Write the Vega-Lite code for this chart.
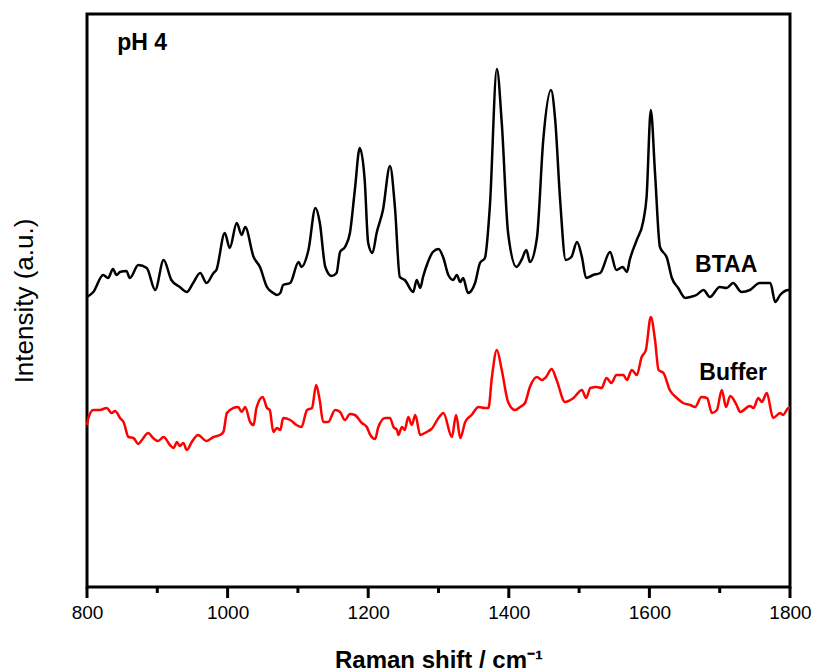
{
  "$schema": "https://vega.github.io/schema/vega-lite/v6.json",
  "width": 703,
  "height": 573,
  "autosize": "none",
  "padding": {"left": 87, "top": 14, "right": 24, "bottom": 84},
  "background": "white",
  "config": {
    "view": {"stroke": "black", "strokeWidth": 3},
    "font": "Liberation Sans",
    "axis": {"grid": false, "domainColor": "black", "domainWidth": 3, "labelColor": "black", "titleColor": "black", "labelFont": "Liberation Sans", "titleFont": "Liberation Sans"}
  },
  "datasets": {
    "spectra": [
      {"s":"BTAA","x":800,"y":290},{"s":"BTAA","x":809,"y":295},{"s":"BTAA","x":823,"y":312},{"s":"BTAA","x":830,"y":309},{"s":"BTAA","x":837,"y":318},{"s":"BTAA","x":842,"y":312},{"s":"BTAA","x":847,"y":315},{"s":"BTAA","x":856,"y":316},{"s":"BTAA","x":861,"y":309},{"s":"BTAA","x":873,"y":322},{"s":"BTAA","x":885,"y":319},{"s":"BTAA","x":897,"y":297},{"s":"BTAA","x":909,"y":327},{"s":"BTAA","x":920,"y":307},{"s":"BTAA","x":932,"y":300},{"s":"BTAA","x":942,"y":295},{"s":"BTAA","x":951,"y":304},{"s":"BTAA","x":961,"y":314},{"s":"BTAA","x":970,"y":304},{"s":"BTAA","x":980,"y":314},{"s":"BTAA","x":984,"y":317},{"s":"BTAA","x":996,"y":354},{"s":"BTAA","x":1003,"y":339},{"s":"BTAA","x":1013,"y":364},{"s":"BTAA","x":1020,"y":352},{"s":"BTAA","x":1025,"y":360},{"s":"BTAA","x":1037,"y":330},{"s":"BTAA","x":1046,"y":320},{"s":"BTAA","x":1056,"y":300},{"s":"BTAA","x":1065,"y":294},{"s":"BTAA","x":1070,"y":292},{"s":"BTAA","x":1075,"y":294},{"s":"BTAA","x":1079,"y":302},{"s":"BTAA","x":1089,"y":304},{"s":"BTAA","x":1101,"y":325},{"s":"BTAA","x":1105,"y":320},{"s":"BTAA","x":1115,"y":337},{"s":"BTAA","x":1125,"y":379},{"s":"BTAA","x":1131,"y":365},{"s":"BTAA","x":1139,"y":320},{"s":"BTAA","x":1148,"y":311},{"s":"BTAA","x":1155,"y":314},{"s":"BTAA","x":1160,"y":335},{"s":"BTAA","x":1167,"y":340},{"s":"BTAA","x":1174,"y":354},{"s":"BTAA","x":1181,"y":397},{"s":"BTAA","x":1188,"y":439},{"s":"BTAA","x":1195,"y":407},{"s":"BTAA","x":1200,"y":344},{"s":"BTAA","x":1206,"y":334},{"s":"BTAA","x":1212,"y":354},{"s":"BTAA","x":1221,"y":377},{"s":"BTAA","x":1231,"y":421},{"s":"BTAA","x":1238,"y":380},{"s":"BTAA","x":1245,"y":310},{"s":"BTAA","x":1252,"y":307},{"s":"BTAA","x":1264,"y":295},{"s":"BTAA","x":1269,"y":307},{"s":"BTAA","x":1274,"y":299},{"s":"BTAA","x":1278,"y":310},{"s":"BTAA","x":1285,"y":325},{"s":"BTAA","x":1292,"y":335},{"s":"BTAA","x":1300,"y":338},{"s":"BTAA","x":1307,"y":329},{"s":"BTAA","x":1314,"y":312},{"s":"BTAA","x":1321,"y":307},{"s":"BTAA","x":1326,"y":312},{"s":"BTAA","x":1331,"y":305},{"s":"BTAA","x":1335,"y":309},{"s":"BTAA","x":1342,"y":294},{"s":"BTAA","x":1352,"y":304},{"s":"BTAA","x":1359,"y":324},{"s":"BTAA","x":1366,"y":329},{"s":"BTAA","x":1373,"y":380},{"s":"BTAA","x":1383,"y":518},{"s":"BTAA","x":1390,"y":464},{"s":"BTAA","x":1399,"y":354},{"s":"BTAA","x":1411,"y":320},{"s":"BTAA","x":1418,"y":327},{"s":"BTAA","x":1425,"y":337},{"s":"BTAA","x":1430,"y":325},{"s":"BTAA","x":1440,"y":349},{"s":"BTAA","x":1449,"y":447},{"s":"BTAA","x":1460,"y":497},{"s":"BTAA","x":1466,"y":467},{"s":"BTAA","x":1473,"y":387},{"s":"BTAA","x":1481,"y":327},{"s":"BTAA","x":1489,"y":330},{"s":"BTAA","x":1497,"y":345},{"s":"BTAA","x":1504,"y":330},{"s":"BTAA","x":1510,"y":309},{"s":"BTAA","x":1520,"y":312},{"s":"BTAA","x":1530,"y":314},{"s":"BTAA","x":1544,"y":335},{"s":"BTAA","x":1553,"y":317},{"s":"BTAA","x":1562,"y":320},{"s":"BTAA","x":1568,"y":315},{"s":"BTAA","x":1572,"y":327},{"s":"BTAA","x":1582,"y":347},{"s":"BTAA","x":1591,"y":365},{"s":"BTAA","x":1596,"y":390},{"s":"BTAA","x":1602,"y":477},{"s":"BTAA","x":1608,"y":414},{"s":"BTAA","x":1615,"y":340},{"s":"BTAA","x":1625,"y":329},{"s":"BTAA","x":1632,"y":309},{"s":"BTAA","x":1641,"y":299},{"s":"BTAA","x":1651,"y":289},{"s":"BTAA","x":1658,"y":290},{"s":"BTAA","x":1667,"y":292},{"s":"BTAA","x":1677,"y":297},{"s":"BTAA","x":1686,"y":290},{"s":"BTAA","x":1700,"y":300},{"s":"BTAA","x":1710,"y":299},{"s":"BTAA","x":1719,"y":304},{"s":"BTAA","x":1731,"y":295},{"s":"BTAA","x":1743,"y":297},{"s":"BTAA","x":1757,"y":304},{"s":"BTAA","x":1772,"y":304},{"s":"BTAA","x":1779,"y":285},{"s":"BTAA","x":1786,"y":292},{"s":"BTAA","x":1798,"y":297},{"s":"BTAA","x":1800,"y":297},
      {"s":"Buffer","x":800,"y":162},{"s":"Buffer","x":802,"y":169},{"s":"Buffer","x":809,"y":177},{"s":"Buffer","x":818,"y":177},{"s":"Buffer","x":828,"y":179},{"s":"Buffer","x":835,"y":174},{"s":"Buffer","x":840,"y":176},{"s":"Buffer","x":847,"y":169},{"s":"Buffer","x":852,"y":165},{"s":"Buffer","x":859,"y":150},{"s":"Buffer","x":866,"y":149},{"s":"Buffer","x":873,"y":143},{"s":"Buffer","x":878,"y":147},{"s":"Buffer","x":887,"y":154},{"s":"Buffer","x":894,"y":149},{"s":"Buffer","x":901,"y":146},{"s":"Buffer","x":909,"y":150},{"s":"Buffer","x":918,"y":142},{"s":"Buffer","x":923,"y":139},{"s":"Buffer","x":928,"y":145},{"s":"Buffer","x":932,"y":141},{"s":"Buffer","x":937,"y":144},{"s":"Buffer","x":942,"y":137},{"s":"Buffer","x":949,"y":145},{"s":"Buffer","x":958,"y":152},{"s":"Buffer","x":970,"y":146},{"s":"Buffer","x":980,"y":150},{"s":"Buffer","x":989,"y":152},{"s":"Buffer","x":994,"y":155},{"s":"Buffer","x":999,"y":174},{"s":"Buffer","x":1008,"y":179},{"s":"Buffer","x":1015,"y":180},{"s":"Buffer","x":1020,"y":175},{"s":"Buffer","x":1025,"y":180},{"s":"Buffer","x":1032,"y":165},{"s":"Buffer","x":1037,"y":162},{"s":"Buffer","x":1041,"y":179},{"s":"Buffer","x":1050,"y":190},{"s":"Buffer","x":1056,"y":179},{"s":"Buffer","x":1060,"y":177},{"s":"Buffer","x":1065,"y":155},{"s":"Buffer","x":1070,"y":159},{"s":"Buffer","x":1075,"y":157},{"s":"Buffer","x":1079,"y":169},{"s":"Buffer","x":1089,"y":167},{"s":"Buffer","x":1098,"y":162},{"s":"Buffer","x":1105,"y":160},{"s":"Buffer","x":1113,"y":177},{"s":"Buffer","x":1120,"y":179},{"s":"Buffer","x":1126,"y":202},{"s":"Buffer","x":1131,"y":187},{"s":"Buffer","x":1136,"y":165},{"s":"Buffer","x":1143,"y":165},{"s":"Buffer","x":1153,"y":177},{"s":"Buffer","x":1160,"y":175},{"s":"Buffer","x":1167,"y":167},{"s":"Buffer","x":1174,"y":173},{"s":"Buffer","x":1181,"y":172},{"s":"Buffer","x":1191,"y":164},{"s":"Buffer","x":1198,"y":160},{"s":"Buffer","x":1203,"y":152},{"s":"Buffer","x":1210,"y":148},{"s":"Buffer","x":1214,"y":159},{"s":"Buffer","x":1224,"y":169},{"s":"Buffer","x":1231,"y":169},{"s":"Buffer","x":1236,"y":160},{"s":"Buffer","x":1241,"y":157},{"s":"Buffer","x":1243,"y":152},{"s":"Buffer","x":1248,"y":160},{"s":"Buffer","x":1252,"y":157},{"s":"Buffer","x":1257,"y":170},{"s":"Buffer","x":1262,"y":162},{"s":"Buffer","x":1267,"y":172},{"s":"Buffer","x":1274,"y":152},{"s":"Buffer","x":1283,"y":155},{"s":"Buffer","x":1290,"y":158},{"s":"Buffer","x":1301,"y":170},{"s":"Buffer","x":1307,"y":174},{"s":"Buffer","x":1319,"y":150},{"s":"Buffer","x":1325,"y":172},{"s":"Buffer","x":1331,"y":149},{"s":"Buffer","x":1338,"y":165},{"s":"Buffer","x":1347,"y":172},{"s":"Buffer","x":1357,"y":180},{"s":"Buffer","x":1366,"y":179},{"s":"Buffer","x":1371,"y":179},{"s":"Buffer","x":1376,"y":210},{"s":"Buffer","x":1383,"y":237},{"s":"Buffer","x":1390,"y":217},{"s":"Buffer","x":1399,"y":185},{"s":"Buffer","x":1409,"y":177},{"s":"Buffer","x":1416,"y":180},{"s":"Buffer","x":1423,"y":184},{"s":"Buffer","x":1430,"y":200},{"s":"Buffer","x":1440,"y":210},{"s":"Buffer","x":1447,"y":207},{"s":"Buffer","x":1453,"y":210},{"s":"Buffer","x":1461,"y":218},{"s":"Buffer","x":1468,"y":207},{"s":"Buffer","x":1480,"y":185},{"s":"Buffer","x":1492,"y":189},{"s":"Buffer","x":1504,"y":197},{"s":"Buffer","x":1510,"y":189},{"s":"Buffer","x":1516,"y":199},{"s":"Buffer","x":1525,"y":200},{"s":"Buffer","x":1532,"y":199},{"s":"Buffer","x":1539,"y":209},{"s":"Buffer","x":1546,"y":204},{"s":"Buffer","x":1553,"y":212},{"s":"Buffer","x":1563,"y":212},{"s":"Buffer","x":1568,"y":207},{"s":"Buffer","x":1575,"y":217},{"s":"Buffer","x":1582,"y":212},{"s":"Buffer","x":1589,"y":230},{"s":"Buffer","x":1595,"y":237},{"s":"Buffer","x":1602,"y":270},{"s":"Buffer","x":1608,"y":247},{"s":"Buffer","x":1613,"y":217},{"s":"Buffer","x":1620,"y":214},{"s":"Buffer","x":1629,"y":197},{"s":"Buffer","x":1639,"y":189},{"s":"Buffer","x":1648,"y":184},{"s":"Buffer","x":1658,"y":182},{"s":"Buffer","x":1665,"y":180},{"s":"Buffer","x":1674,"y":190},{"s":"Buffer","x":1682,"y":189},{"s":"Buffer","x":1689,"y":174},{"s":"Buffer","x":1696,"y":177},{"s":"Buffer","x":1703,"y":197},{"s":"Buffer","x":1709,"y":180},{"s":"Buffer","x":1715,"y":191},{"s":"Buffer","x":1724,"y":182},{"s":"Buffer","x":1729,"y":175},{"s":"Buffer","x":1743,"y":181},{"s":"Buffer","x":1748,"y":179},{"s":"Buffer","x":1755,"y":189},{"s":"Buffer","x":1760,"y":185},{"s":"Buffer","x":1767,"y":194},{"s":"Buffer","x":1776,"y":169},{"s":"Buffer","x":1786,"y":174},{"s":"Buffer","x":1790,"y":172},{"s":"Buffer","x":1798,"y":179},{"s":"Buffer","x":1800,"y":179}
    ],
    "labels": [
      {"text": "pH 4", "x": 843, "y": 537},
      {"text": "BTAA", "x": 1665, "y": 315},
      {"text": "Buffer", "x": 1671, "y": 207}
    ],
    "majorTicks": [{"x": 800}, {"x": 1000}, {"x": 1200}, {"x": 1400}, {"x": 1600}, {"x": 1800}],
    "minorTicks": [{"x": 900}, {"x": 1100}, {"x": 1300}, {"x": 1500}, {"x": 1700}]
  },
  "layer": [
    {
      "data": {"name": "spectra"},
      "mark": {"type": "line", "strokeWidth": 2.5, "interpolate": "monotone"},
      "encoding": {
        "x": {"field": "x", "type": "quantitative", "scale": {"domain": [800, 1800], "nice": false, "zero": false},
          "axis": {"orient": "bottom", "values": [800, 1000, 1200, 1400, 1600, 1800], "format": "d", "ticks": false, "labelFontSize": 19, "labelPadding": 16, "labelFlush": false, "labelOverlap": false, "domain": false,
            "title": "Raman shift / cm⁻¹", "titleFontSize": 24, "titleFontWeight": "bold", "titleY": 80, "titleBaseline": "alphabetic"}},
        "y": {"field": "y", "type": "quantitative", "scale": {"domain": [0, 573], "nice": false, "zero": false},
          "axis": {"title": "Intensity (a.u.)", "ticks": false, "labels": false, "domain": false, "titleFontSize": 26, "titleFontWeight": "normal", "titleX": -55, "titleBaseline": "alphabetic"}},
        "color": {"field": "s", "type": "nominal", "scale": {"domain": ["BTAA", "Buffer"], "range": ["black", "#ff0000"]}, "legend": null}
      }
    },
    {
      "data": {"name": "majorTicks"},
      "mark": {"type": "rule", "color": "black", "strokeWidth": 3, "clip": false},
      "encoding": {
        "x": {"field": "x", "type": "quantitative"},
        "y": {"datum": 0},
        "y2": {"datum": -11}
      }
    },
    {
      "data": {"name": "minorTicks"},
      "mark": {"type": "rule", "color": "black", "strokeWidth": 3, "clip": false},
      "encoding": {
        "x": {"field": "x", "type": "quantitative"},
        "y": {"datum": 0},
        "y2": {"datum": -6}
      }
    },
    {
      "data": {"name": "labels"},
      "mark": {"type": "text", "fontSize": 23, "fontWeight": "bold", "align": "left", "baseline": "alphabetic", "color": "black", "font": "Liberation Sans"},
      "encoding": {
        "x": {"field": "x", "type": "quantitative"},
        "y": {"field": "y", "type": "quantitative"},
        "text": {"field": "text"}
      }
    }
  ]
}
